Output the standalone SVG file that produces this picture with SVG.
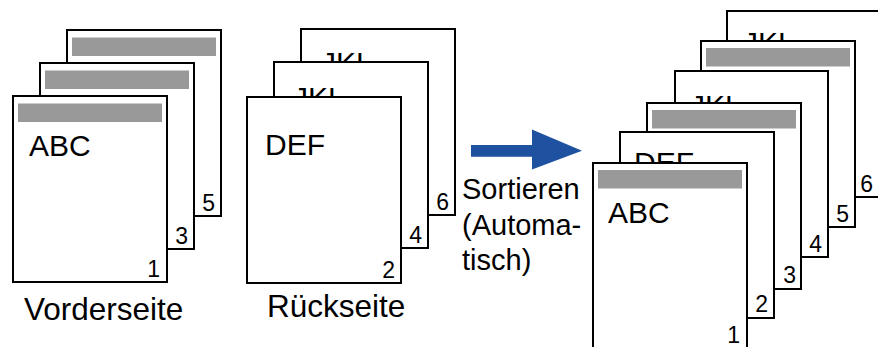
<svg xmlns="http://www.w3.org/2000/svg" width="878" height="347" viewBox="0 0 878 347">
<style>
.pg{fill:#fff;stroke:#000;stroke-width:2}
.bar{fill:#999}
text{font-family:"Liberation Sans",Arial,sans-serif;fill:#000}
.big{font-size:30px}
.num{font-size:23px;text-anchor:end}
.lbl{font-size:31.5px}
.srt{font-size:29px}
</style>
<rect width="878" height="347" fill="#fff"/>
<!-- Left stack: Vorderseite -->
<g id="L5"><rect class="pg" x="67" y="30" width="154" height="186"/><rect class="bar" x="72" y="37.5" width="144" height="18.5"/><text class="num" x="215" y="210.5">5</text></g>
<g id="L3"><rect class="pg" x="40" y="63" width="154" height="186"/><rect class="bar" x="45" y="70.5" width="144" height="18.5"/><text class="num" x="188" y="243.5">3</text></g>
<g id="L1"><rect class="pg" x="13" y="96" width="154" height="186"/><rect class="bar" x="18" y="103.5" width="144" height="18.5"/><text class="big" x="29" y="156">ABC</text><text class="num" x="160" y="276.5">1</text></g>
<g id="lblVorder"><text class="lbl" x="24" y="320">Vorderseite</text></g>
<!-- Middle stack: Rückseite -->
<g id="M6"><rect class="pg" x="301" y="29" width="154" height="186"/><text class="big" x="321" y="73">JKL</text><text class="num" x="449" y="209.5">6</text></g>
<g id="M4"><rect class="pg" x="274" y="62" width="154" height="186"/><text class="big" x="293" y="108">JKL</text><text class="num" x="422" y="242.5">4</text></g>
<g id="M2"><rect class="pg" x="247" y="97" width="154" height="186"/><text class="big" x="265" y="155">DEF</text><text class="num" x="395" y="277.5">2</text></g>
<g id="lblRueck"><text class="lbl" x="267" y="317">Rückseite</text></g>
<!-- Arrow -->
<g id="connectors"><polygon points="471,145 532,145 532,129.5 582,150.7 532,169.5 532,156.7 471,156.7" fill="#1e52a0"/></g>
<g id="lblSort"><text class="srt" x="462" y="199">Sortieren</text><text class="srt" x="462" y="235">(Automa-</text><text class="srt" x="462" y="270">tisch)</text></g>
<!-- Right stack: sorted -->
<g id="R6"><rect class="pg" x="727" y="11" width="154" height="186"/><text class="big" x="743" y="53">JKL</text><text class="num" x="873" y="191.5">6</text></g>
<g id="R5"><rect class="pg" x="701" y="41" width="154" height="186"/><rect class="bar" x="706" y="48" width="144" height="18.5"/><text class="num" x="849" y="221.5">5</text></g>
<g id="R4"><rect class="pg" x="675" y="71" width="153" height="186"/><text class="big" x="690" y="116">JKL</text><text class="num" x="822" y="251.5">4</text></g>
<g id="R3"><rect class="pg" x="647" y="103" width="154" height="186"/><rect class="bar" x="652" y="110" width="144" height="18.5"/><text class="num" x="796" y="283">3</text></g>
<g id="R2"><rect class="pg" x="620" y="132" width="154" height="186"/><text class="big" x="634" y="173">DEF</text><text class="num" x="768" y="312">2</text></g>
<g id="R1"><rect class="pg" x="593" y="163" width="154" height="186"/><rect class="bar" x="598" y="170" width="144" height="18.5"/><text class="big" x="608" y="223">ABC</text><text class="num" x="740" y="342.5">1</text></g>
</svg>
